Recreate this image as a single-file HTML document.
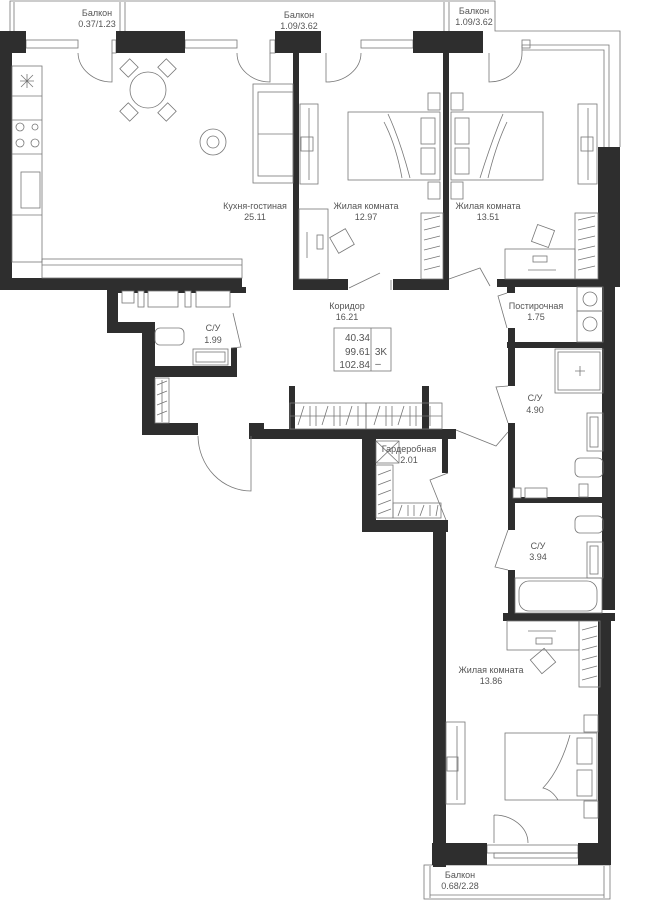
<!DOCTYPE html>
<html><head><meta charset="utf-8"><style>
html,body{margin:0;padding:0;background:#fff}
svg{display:block}
text{font-family:"Liberation Sans",sans-serif;font-size:9px;fill:#555;text-anchor:middle}
.w{fill:#2e2e2e}
.l{fill:none;stroke:#777;stroke-width:0.8}
.f{fill:#fff;stroke:#777;stroke-width:0.8}
</style></head><body>
<svg width="652" height="900" viewBox="0 0 652 900" xmlns="http://www.w3.org/2000/svg">
<!-- balconies -->
<polyline class="l" points="10,31 10,1 495,1 495,31 620,31 620,147"/>
<line class="l" x1="14" y1="31" x2="14" y2="2"/>
<line class="l" x1="120" y1="31" x2="120" y2="2"/>
<line class="l" x1="125" y1="31" x2="125" y2="2"/>
<line class="l" x1="444" y1="31" x2="444" y2="2"/>
<line class="l" x1="449" y1="31" x2="449" y2="2"/>
<polyline class="l" points="522,53 522,45 609,45 609,147"/>
<polyline class="l" points="522,50 604,50 604,147"/>
<rect class="l" x="424" y="865" width="186" height="34"/>
<line class="l" x1="430" y1="866" x2="430" y2="898"/>
<line class="l" x1="604" y1="866" x2="604" y2="898"/>
<line class="l" x1="430" y1="895" x2="604" y2="895"/>

<!-- windows -->
<g class="l">
<rect x="26" y="40" width="52" height="8"/><rect x="185" y="40" width="52" height="8"/>
<rect x="361" y="40" width="52" height="8"/><rect x="522" y="40" width="8" height="8"/>
<rect x="112" y="40" width="4" height="13"/><rect x="270" y="40" width="5" height="13"/>
<rect x="487" y="845" width="91" height="8"/><rect x="494" y="853" width="84" height="5"/>
</g>

<!-- walls -->
<g class="w">
<rect x="0" y="31" width="26" height="22"/>
<rect x="116" y="31" width="69" height="22"/>
<rect x="275" y="31" width="46" height="22"/>
<rect x="413" y="31" width="70" height="22"/>
<rect x="0" y="31" width="12" height="259"/>
<rect x="0" y="278" width="242" height="12"/>
<rect x="293" y="53" width="6" height="237"/>
<rect x="293" y="279" width="55" height="11"/>
<rect x="393" y="279" width="56" height="11"/>
<rect x="443" y="53" width="6" height="237"/>
<rect x="497" y="279" width="114" height="8"/>
<rect x="598" y="147" width="22" height="140"/>
<rect x="602" y="280" width="13" height="330"/>
<!-- bath1 block -->
<rect x="107" y="287" width="139" height="6"/>
<rect x="107" y="287" width="11" height="46"/>
<rect x="107" y="322" width="46" height="11"/>
<rect x="142" y="322" width="13" height="113"/>
<rect x="142" y="366" width="95" height="11"/>
<rect x="231" y="348" width="6" height="29"/>
<rect x="142" y="423" width="56" height="12"/>
<!-- corridor -->
<rect x="249" y="423" width="15" height="16"/>
<rect x="257" y="429" width="199" height="10"/>
<rect x="289" y="386" width="6" height="43"/>
<rect x="422" y="386" width="7" height="43"/>
<!-- wardrobe room -->
<rect x="362" y="439" width="14" height="93"/>
<rect x="362" y="520" width="86" height="12"/>
<rect x="442" y="439" width="6" height="34"/>
<rect x="433" y="520" width="13" height="347"/>
<!-- right column partitions -->
<rect x="507" y="280" width="8" height="13"/>
<rect x="507" y="342" width="108" height="6"/>
<rect x="508" y="328" width="7" height="58"/>
<rect x="508" y="423" width="7" height="107"/>
<rect x="508" y="497" width="107" height="6"/>
<rect x="508" y="570" width="7" height="50"/>
<rect x="503" y="613" width="112" height="8"/>
<rect x="598" y="613" width="13" height="252"/>
<rect x="432" y="843" width="55" height="22"/>
<rect x="578" y="843" width="33" height="22"/>
</g>
<g class="f">
<rect x="513" y="488" width="8" height="10"/><rect x="525" y="488" width="22" height="10"/>
<rect x="122" y="291" width="12" height="12"/><rect x="138" y="291" width="6" height="16"/>
<rect x="148" y="291" width="30" height="16"/><rect x="185" y="291" width="6" height="16"/><rect x="196" y="291" width="34" height="16"/>
</g>

<!-- kitchen -->
<g class="l">
<rect x="12" y="66" width="30" height="196"/>
<line x1="12" y1="96" x2="42" y2="96"/><line x1="12" y1="120" x2="42" y2="120"/>
<line x1="12" y1="154" x2="42" y2="154"/><line x1="12" y1="215" x2="42" y2="215"/>
<rect x="21" y="172" width="19" height="36"/>
<circle cx="20" cy="127" r="4"/><circle cx="35" cy="127" r="3"/><circle cx="20" cy="143" r="4"/><circle cx="35" cy="143" r="4"/>
<path d="M21,75 L33,87 M33,75 L21,87 M27,74 L27,88 M20,81 L34,81"/>
<rect x="42" y="259" width="200" height="19"/><line x1="42" y1="265" x2="242" y2="265"/>
<ellipse cx="148" cy="90" rx="18" ry="18"/>
<rect x="122" y="62" width="14" height="12" transform="rotate(-45 129 68)"/>
<rect x="160" y="62" width="14" height="12" transform="rotate(45 167 68)"/>
<rect x="122" y="106" width="14" height="12" transform="rotate(45 129 112)"/>
<rect x="160" y="106" width="14" height="12" transform="rotate(-45 167 112)"/>
<circle cx="213" cy="142" r="13"/><circle cx="213" cy="142" r="6"/>
<rect x="253" y="84" width="40" height="99"/><rect x="258" y="92" width="35" height="84"/>
<line x1="258" y1="134" x2="293" y2="134"/>
</g>
<!-- bedroom 1 & 2 -->
<g class="l">
<rect x="348" y="112" width="92" height="68"/><rect x="421" y="118" width="14" height="26"/><rect x="421" y="148" width="14" height="26"/>
<path d="M388,114 Q400,140 410,178 M384,122 Q396,145 402,178"/>
<rect x="428" y="93" width="12" height="17"/><rect x="428" y="182" width="12" height="17"/>
<rect x="451" y="112" width="92" height="68"/><rect x="455" y="118" width="14" height="26"/><rect x="455" y="148" width="14" height="26"/>
<path d="M503,114 Q492,140 480,178 M507,122 Q496,145 488,178"/>
<rect x="451" y="93" width="12" height="17"/><rect x="451" y="182" width="12" height="17"/>
<rect x="300" y="104" width="18" height="80"/><line x1="309" y1="108" x2="309" y2="180"/><rect x="301" y="137" width="12" height="14"/>
<rect x="578" y="104" width="19" height="80"/><line x1="588" y1="108" x2="588" y2="180"/><rect x="581" y="137" width="12" height="14"/>
<rect x="299" y="209" width="29" height="70"/><rect x="317" y="235" width="6" height="14"/><line x1="307" y1="232" x2="307" y2="258"/>
<rect x="333" y="232" width="18" height="18" transform="rotate(-30 342 241)"/>
<rect x="421" y="213" width="22" height="66"/><path d="M424,220 L440,216 M424,230 L440,226 M424,240 L440,236 M424,250 L440,246 M424,260 L440,256 M424,270 L440,266"/>
<rect x="505" y="249" width="70" height="30"/><rect x="533" y="256" width="14" height="6"/><line x1="528" y1="270" x2="556" y2="270"/>
<rect x="534" y="227" width="18" height="18" transform="rotate(20 543 236)"/>
<rect x="575" y="213" width="23" height="66"/><path d="M578,220 L595,216 M578,230 L595,226 M578,240 L595,236 M578,250 L595,246 M578,260 L595,256 M578,270 L595,266"/>
</g>
<!-- right column fixtures -->
<g class="l">
<rect x="577" y="287" width="26" height="24"/><circle cx="590" cy="299" r="7"/>
<rect x="577" y="311" width="26" height="31"/><circle cx="590" cy="324" r="7"/>
<rect x="555" y="349" width="48" height="44"/><rect x="558" y="352" width="42" height="38"/><path d="M575,371 L585,371 M580,366 L580,376"/>
<rect x="587" y="413" width="16" height="38"/><rect x="590" y="417" width="8" height="30"/>
<rect x="575" y="458" width="28" height="19" rx="5"/><rect x="579" y="484" width="9" height="13"/>
<rect x="575" y="516" width="28" height="17" rx="5"/>
<rect x="587" y="542" width="16" height="36"/><rect x="590" y="546" width="8" height="28"/>
<rect x="515" y="578" width="87" height="35"/><rect x="519" y="581" width="78" height="30" rx="10"/>
<rect x="155" y="328" width="29" height="17" rx="5"/>
<rect x="193" y="349" width="35" height="16"/><rect x="196" y="352" width="29" height="10"/>
<rect x="155" y="378" width="14" height="45"/><path d="M157,385 L167,381 M157,395 L167,391 M157,405 L167,401 M157,415 L167,411 M162,380 L162,422"/>
<rect x="290" y="403" width="76" height="26"/><rect x="366" y="403" width="76" height="26"/>
<line x1="290" y1="416" x2="442" y2="416"/>
<path d="M298,425 L304,406 M310,406 L310,426 M316,406 L316,426 M322,425 L328,406 M334,406 L334,426 M340,406 L340,426 M346,425 L352,406 M358,406 L358,426 M374,425 L380,406 M386,406 L386,426 M392,406 L392,426 M398,425 L404,406 M410,406 L410,426 M416,406 L416,426 M430,406 L430,426"/>
<rect x="376" y="441" width="23" height="22"/><path d="M376,441 L399,463 M399,441 L376,463"/>
<rect x="376" y="465" width="17" height="53"/><path d="M378,475 L391,470 M378,485 L391,480 M378,495 L391,490 M378,505 L391,500 M378,514 L391,509"/>
<rect x="393" y="503" width="48" height="15"/><path d="M398,516 L402,505 M408,505 L408,516 M414,505 L414,516 M420,516 L424,505 M430,505 L430,516 M436,516 L438,505"/>
</g>
<!-- bedroom 3 -->
<g class="l">
<rect x="507" y="621" width="72" height="29"/><line x1="528" y1="631" x2="556" y2="631"/><rect x="536" y="638" width="16" height="6"/>
<rect x="534" y="652" width="18" height="18" transform="rotate(-40 543 661)"/>
<rect x="579" y="621" width="21" height="66"/><path d="M582,630 L597,626 M582,640 L597,636 M582,650 L597,646 M582,660 L597,656 M582,670 L597,666 M582,680 L597,676"/>
<rect x="505" y="733" width="92" height="67"/><rect x="577" y="738" width="15" height="26"/><rect x="577" y="770" width="15" height="26"/>
<path d="M570,735 Q560,770 543,788 Q552,790 558,800"/>
<rect x="584" y="715" width="14" height="17"/><rect x="584" y="801" width="14" height="17"/>
<rect x="446" y="722" width="19" height="82"/><line x1="457" y1="726" x2="457" y2="800"/><rect x="447" y="757" width="11" height="14"/>
</g>
<!-- doors -->
<g class="l">
<path d="M78,53 A34,30 0 0 0 112,82 L112,53"/>
<path d="M237,53 A33,29 0 0 0 270,82 L270,53"/>
<path d="M361,53 A35,29 0 0 1 326,82 L326,53"/>
<path d="M522,53 A33,29 0 0 1 489,82 L489,53"/>
<path d="M349,288 L380,273 M391,280 L391,290"/>
<path d="M449,279 L480,268 L490,286"/>
<path d="M507,293 L498,296 L507,328"/>
<path d="M233,313 L241,347 L231,348"/>
<path d="M508,386 L496,387 L508,423"/>
<path d="M456,430 L496,446 L508,432"/>
<path d="M448,473 L430,480 L446,520"/>
<path d="M508,530 L495,567 L508,570"/>
<path d="M198,436 A53,56 0 0 0 251,491 L251,436"/>
<path d="M494,815 L494,843 M494,815 A34,28 0 0 1 528,843"/>
</g>
<!-- info box -->
<rect class="l" x="334" y="328" width="57" height="43"/>
<line class="l" x1="371" y1="328" x2="371" y2="371"/>

<!-- labels -->
<text x="97" y="16">Балкон</text><text x="97" y="27">0.37/1.23</text>
<text x="299" y="18">Балкон</text><text x="299" y="29">1.09/3.62</text>
<text x="474" y="14">Балкон</text><text x="474" y="25">1.09/3.62</text>
<text x="255" y="209">Кухня-гостиная</text><text x="255" y="220">25.11</text>
<text x="366" y="209">Жилая комната</text><text x="366" y="220">12.97</text>
<text x="488" y="209">Жилая комната</text><text x="488" y="220">13.51</text>
<text x="347" y="309">Коридор</text><text x="347" y="320">16.21</text>
<text x="370" y="341" style="text-anchor:end;font-size:10px">40.34</text>
<text x="370" y="355" style="text-anchor:end;font-size:10px">99.61</text>
<text x="370" y="368" style="text-anchor:end;font-size:10px">102.84</text>
<text x="381" y="355" style="font-size:10px">3K</text><text x="378" y="367" style="font-size:10px">–</text>
<text x="213" y="331">С/У</text><text x="213" y="343">1.99</text>
<text x="536" y="309">Постирочная</text><text x="536" y="320">1.75</text>
<text x="535" y="401">С/У</text><text x="535" y="413">4.90</text>
<text x="409" y="452">Гардеробная</text><text x="409" y="463">2.01</text>
<text x="538" y="549">С/У</text><text x="538" y="560">3.94</text>
<text x="491" y="673">Жилая комната</text><text x="491" y="684">13.86</text>
<text x="460" y="878">Балкон</text><text x="460" y="889">0.68/2.28</text>
</svg>
</body></html>
